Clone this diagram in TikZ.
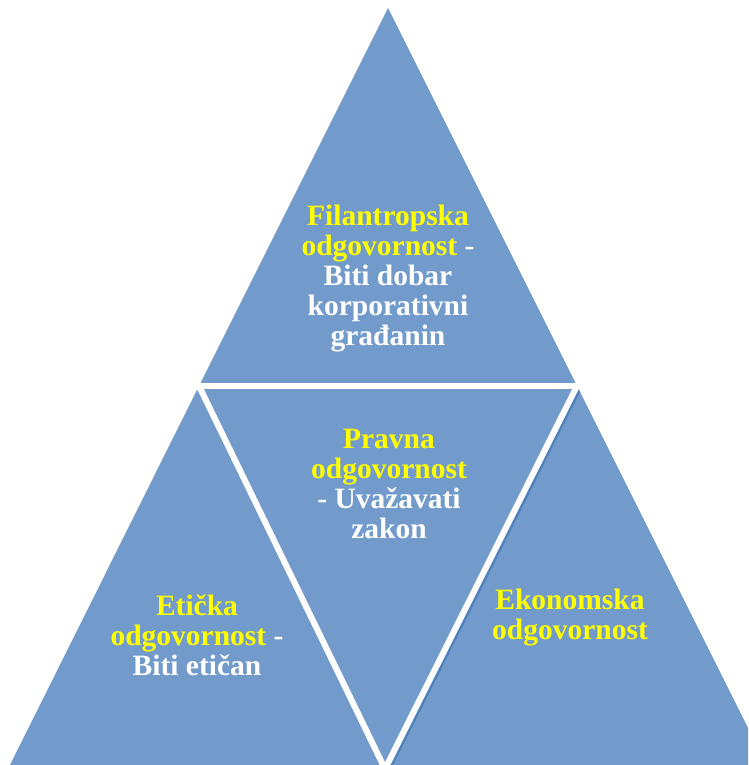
\documentclass[tikz,border=0pt]{standalone}
\usepackage{fontspec}
\setmainfont{Liberation Serif}
\usetikzlibrary{calc, positioning}
\definecolor{pyrblue}{RGB}{114,155,203}
\definecolor{pyrshade}{RGB}{79,129,189}
\definecolor{pyryellow}{RGB}{255,255,0}
\newcommand{\yl}[1]{\textcolor{pyryellow}{#1}}

\begin{document}
\begin{tikzpicture}[x=1pt, y=-1pt,
    piece/.style={fill=pyrblue},
    gap/.style={draw=white, line width=6pt},
    shade/.style={draw=pyrshade, line width=3pt},
    lbl/.style={align=center, text=white, inner sep=0pt,
                font=\bfseries\fontsize{29.5}{30}\selectfont}]

    \useasboundingbox (0,0) rectangle (748,765); % same size as the slide picture
    \clip (0,0) rectangle (748,765);

    % corners of the pyramid and of the upside-down middle part
    \coordinate (apex) at (388,8);
    \coordinate (bl)   at (7,771);
    \coordinate (br)   at (769.5,771);
    \coordinate (ml)   at (199,386);
    \coordinate (mr)   at (577,386);
    \coordinate (mb)   at (385,769);

    % the four pieces
    \path [piece] (apex) -- (ml) -- (mr) -- cycle;
    \path [piece] (ml) -- (bl) -- ($(mb)+(0,2)$) -- cycle;
    \path [piece] (ml) -- (mr) -- (mb) -- cycle;
    \path [piece] (mr) -- ($(mb)+(0,2)$) -- (br) -- cycle;

    % little shadow on the left edge of the right piece
    \begin{scope}
        \clip (mr) -- ($(mb)+(0,2)$) -- (br) -- cycle;
        \draw [shade] ($(mr)+(4.5,0)$) -- ($(mb)+(4.5,0)$);
    \end{scope}

    % white gaps between the pieces
    \draw [gap] ($(ml)+(-10,0)$) -- ($(mr)+(10,0)$);
    \draw [gap] (ml) -- (mb) -- (mr);

    % texts
    \node [lbl] (filan)  at (388,279) {\yl{Filantropska}\\ \yl{odgovornost} -\\ Biti dobar\\ korporativni\\ građanin};
    \node [lbl] (pravna) at (389,484) {\yl{Pravna}\\ \yl{odgovornost}\\ - Uvažavati\\ zakon};
    \node [lbl] (eticka) at (197,635) {\yl{Etička}\\ \yl{odgovornost} -\\ Biti etičan};
    \node [lbl] (ekonom) at (570,618) {\yl{Ekonomska}\\ \yl{odgovornost}};

\end{tikzpicture}
\end{document}
